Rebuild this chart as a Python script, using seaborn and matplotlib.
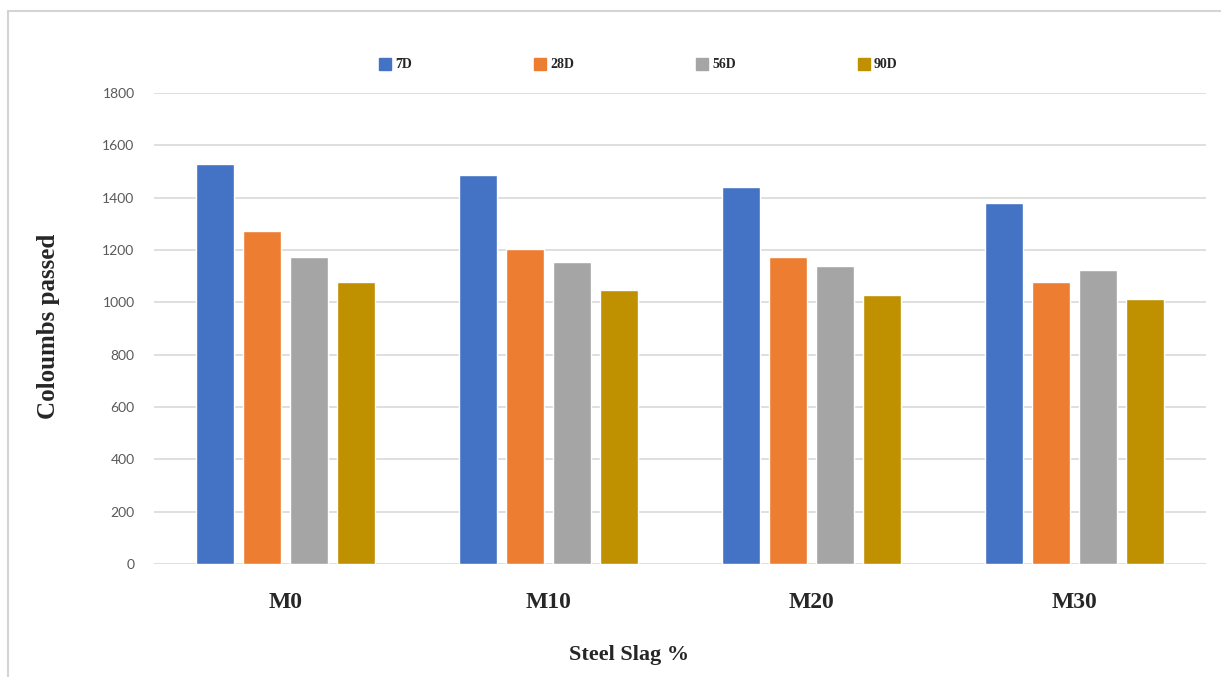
# Rapid chloride penetration test - coulombs passed by steel slag replacement
import pandas as pd
import matplotlib
matplotlib.use('Agg')
import matplotlib.pyplot as plt
from matplotlib.lines import Line2D
import seaborn as sns

# Chart data
mixes = ['M0', 'M10', 'M20', 'M30']
ages = ['7D', '28D', '56D', '90D']
coulombs_7d = [1527, 1488, 1439, 1378]
coulombs_28d = [1271, 1203, 1172, 1077]
coulombs_56d = [1173, 1153, 1137, 1122]
coulombs_90d = [1077, 1049, 1027, 1012]
y_ticks = [0, 200, 400, 600, 800, 1000, 1200, 1400, 1600, 1800]
colors = ['#4472C4', '#ED7D31', '#A5A5A5', '#BF9000']

# Building a long form table for seaborn
rows = []
for age, vals in zip(ages, [coulombs_7d, coulombs_28d, coulombs_56d, coulombs_90d]):
    for mix, v in zip(mixes, vals):
        rows.append({'mix': mix, 'age': age, 'coulombs': v})
df = pd.DataFrame(rows)

sns.set_style('white')
plt.rcParams['font.family'] = ['Liberation Serif', 'DejaVu Serif']

fig = plt.figure(figsize=(12.21, 6.77), dpi=100)
ax = fig.add_axes([154 / 1221, 113 / 677, 1052 / 1221, 471 / 677])

sns.barplot(data=df, x='mix', y='coulombs', hue='age', order=mixes, hue_order=ages,
            palette=colors, width=0.715, gap=0.21, ax=ax, legend=False,
            saturation=1, errorbar=None, zorder=3)

# Axis styling, Excel look
ax.set_ylim(0, 1800)
ax.set_xlim(-0.5, 3.5)
ax.set_yticks(y_ticks)
ax.set_yticklabels([str(t) for t in y_ticks], family='Lato', fontsize=10, color='#595959')
ax.tick_params(axis='y', length=0, pad=14)
ax.tick_params(axis='x', length=0, pad=20)
for lab in ax.get_xticklabels():
    lab.set_fontsize(17)
    lab.set_fontweight('bold')
ax.grid(axis='y', color='#d9d9d9', linewidth=1.2, zorder=0)
ax.grid(axis='x', visible=False)
for s in ax.spines.values():
    s.set_visible(False)

ax.set_xlabel('')
ax.set_ylabel('')
fig.text(49 / 1221, 1 - 326 / 677, 'Coloumbs passed', rotation=90, ha='center', va='center',
         fontsize=18, fontweight='bold')
fig.text(629 / 1221, 1 - 655 / 677, 'Steel Slag %', ha='center', va='center',
         fontsize=16, fontweight='bold')

# Legend along the top
handles = [Line2D([0], [0], marker='s', linestyle='', markersize=8, markerfacecolor=c,
                  markeredgecolor=c) for c in colors]
fig.legend(handles, ages, loc='center', bbox_to_anchor=(638 / 1221, 1 - 65 / 677), ncol=4,
           frameon=False, prop={'size': 10, 'weight': 'bold'}, handletextpad=0.2,
           columnspacing=8.75, handlelength=1.0)

# Border round the chart (only top and left are visible)
fig.add_artist(Line2D([8 / 1221, 1], [1 - 11 / 677, 1 - 11 / 677], transform=fig.transFigure,
                      color='#d4d4d4', linewidth=1.5))
fig.add_artist(Line2D([8 / 1221, 8 / 1221], [0, 1 - 11 / 677], transform=fig.transFigure,
                      color='#d4d4d4', linewidth=1.5))

plt.savefig('out.png', dpi=100)
